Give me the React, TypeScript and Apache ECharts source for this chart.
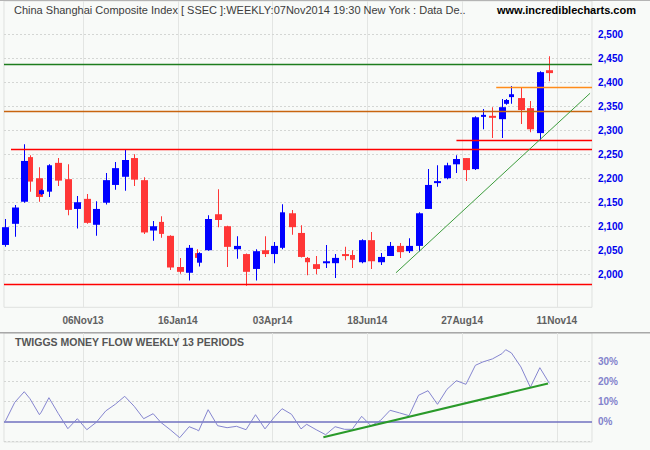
import React, { useEffect, useRef } from "react";
import * as echarts from "echarts";

// Weekly bars (week ending dates) and number of trading days in each week
const weekEnding = [
  "30Aug13", "06Sep13", "13Sep13", "18Sep13", "27Sep13", "30Sep13", "11Oct13", "18Oct13", "25Oct13", "01Nov13",
  "08Nov13", "15Nov13", "22Nov13", "29Nov13", "06Dec13", "13Dec13", "20Dec13", "27Dec13", "03Jan14", "10Jan14",
  "17Jan14", "24Jan14", "30Jan14", "07Feb14", "14Feb14", "21Feb14", "28Feb14", "07Mar14", "14Mar14", "21Mar14",
  "28Mar14", "04Apr14", "11Apr14", "18Apr14", "25Apr14", "30Apr14", "09May14", "16May14", "23May14", "30May14",
  "06Jun14", "13Jun14", "20Jun14", "27Jun14", "04Jul14", "11Jul14", "18Jul14", "25Jul14", "01Aug14", "08Aug14",
  "15Aug14", "22Aug14", "29Aug14", "05Sep14", "12Sep14", "19Sep14", "26Sep14", "30Sep14", "10Oct14", "17Oct14",
  "24Oct14", "31Oct14", "07Nov14",
];
const tradingDays = [
  5, 5, 5, 3, 5, 1, 4, 5, 5, 5,
  5, 5, 5, 5, 5, 5, 5, 5, 4, 5,
  5, 5, 4, 1, 5, 5, 5, 5, 5, 5,
  5, 5, 4, 5, 5, 3, 5, 5, 5, 5,
  4, 5, 5, 5, 5, 5, 5, 5, 5, 5,
  5, 5, 5, 5, 4, 5, 5, 2, 3, 5,
  5, 5, 5,
];
const opens = [
  2062, 2106, 2152, 2245, 2201, 2168, 2173, 2233, 2199, 2137,
  2158, 2104, 2150, 2187, 2204, 2243, 2197, 2092, 2110, 2081,
  2016, 2004, 2045, 2025, 2051, 2126, 2101, 2053, 2043, 2012,
  2051, 2043, 2056, 2128, 2087, 2035, 2022, 2024, 2024, 2043,
  2041, 2026, 2072, 2026, 2039, 2060, 2049, 2060, 2137, 2191,
  2201, 2230, 2243, 2220, 2329, 2331, 2324, 2356, 2370, 2368,
  2347, 2295, 2426,
];
const closes = [
  2099, 2140, 2237, 2194, 2162, 2176, 2228, 2196, 2135, 2151,
  2108, 2137, 2197, 2222, 2239, 2198, 2088, 2101, 2085, 2015,
  2006, 2056, 2035, 2045, 2116, 2114, 2058, 2060, 2006, 2049,
  2043, 2060, 2130, 2099, 2037, 2026, 2012, 2028, 2035, 2042,
  2031, 2072, 2028, 2037, 2060, 2047, 2060, 2128, 2187, 2195,
  2228, 2241, 2218, 2328, 2333, 2328, 2349, 2364, 2376, 2343,
  2303, 2422, 2420,
];
const lows = [
  2058, 2079, 2150, 2173, 2152, 2166, 2162, 2185, 2124, 2096,
  2106, 2081, 2146, 2177, 2175, 2185, 2085, 2071, 2077, 2010,
  2002, 1988, 2033, 2017, 2050, 2099, 2016, 2033, 1977, 1988,
  2037, 2024, 2053, 2083, 2036, 1999, 2001, 2014, 1993, 2030,
  2014, 2024, 2012, 2020, 2039, 2035, 2045, 2049, 2137, 2183,
  2199, 2212, 2195, 2218, 2303, 2285, 2285, 2354, 2356, 2314,
  2297, 2281, 2403,
];
const highs = [
  2116, 2145, 2272, 2249, 2224, 2178, 2230, 2243, 2230, 2164,
  2168, 2153, 2212, 2235, 2262, 2251, 2203, 2112, 2122, 2082,
  2035, 2062, 2053, 2047, 2124, 2178, 2102, 2080, 2044, 2053,
  2080, 2068, 2147, 2135, 2103, 2037, 2039, 2062, 2043, 2058,
  2051, 2074, 2089, 2045, 2068, 2066, 2076, 2130, 2220, 2228,
  2233, 2249, 2243, 2330, 2345, 2349, 2366, 2366, 2393, 2391,
  2362, 2424, 2455,
];
// Twiggs Money Flow (13 week), percent
const moneyFlow = [
  0, 9.5, 14.8, 11.3, 3.3, 4.6, 11.8, 3.8, -3.7, 1.3,
  -4.2, -0.5, 5.2, 8.5, 12.5, 7.5, 1.3, 3.8, -0.5, -4.2,
  -8.2, -2.7, -4.2, -4.8, 5.8, -2.2, -3.2, -2.5, -4.2, 3.3,
  -3.8, 2.2, 6.3, 3.5, -3.8, -1.5, -4.2, -6.7, -2.7, -4,
  -4, 2.5, -2.3, 0.5, 5.5, 4.2, 2.8, 13, 15.3, 8.5,
  16, 20.3, 18.5, 28, 29.7, 31.2, 33.8, 35.8, 34.2, 27.2,
  17, 26.8, 19,
];

// Axis ticks (x positions are trading-day counts from the first bar)
const xTickDays = [41, 91, 141, 191, 241, 291];
const xTickLabels = ["06Nov13", "16Jan14", "03Apr14", "18Jun14", "27Aug14", "11Nov14"];
const priceTicks = [2000, 2050, 2100, 2150, 2200, 2250, 2300, 2350, 2400, 2450, 2500];
const flowTicks = [0, 10, 20, 30];
const flowGrid = [-10, 10, 20, 30];

// Annotation lines drawn on the chart
const levelValues = [2439, 2390, 2340, 2280, 2261, 1980];
const levelStartDay = [null, 259, null, 238, 3, null];
const levelColors = ["#1e7d1e", "#ff8c1a", "#c8640f", "#ff0000", "#ff0000", "#ff0000"];
const priceTrend = [[206.1, 2004], [308.5, 2378]];
const flowTrend = [[167.8, -8], [286.3, 18.9]];

const X_MIN = -0.69;
const X_MAX = 309.52;

const dayIndex: number[] = [];
tradingDays.forEach((d, i) => {
  dayIndex.push(i === 0 ? 0 : dayIndex[i - 1] + d);
});

export default function App() {
  const ref = useRef<HTMLDivElement>(null);
  useEffect(() => {
    if (!ref.current) return;
    const chart = echarts.init(ref.current, undefined, { renderer: "svg" });
    const candleData = weekEnding.map((w, i) => [dayIndex[i], opens[i], closes[i], lows[i], highs[i], tradingDays[i]]);
    const flowData = moneyFlow.map((v, i) => [dayIndex[i], v]);

    const vGrid = xTickDays.map((d) => ({ xAxis: d, lineStyle: { color: "#e3e5e3", type: "solid", width: 1 } }));
    const hGridUpper = priceTicks.map((p) => ({ yAxis: p, lineStyle: { color: "#d4d6d4", type: [2, 2], width: 1 } }));
    const hGridLower = flowGrid.map((p) => ({ yAxis: p, lineStyle: { color: "#d4d6d4", type: [2, 2], width: 1 } }));

    const levelLines = levelValues.map((v, i) => [
      { coord: [levelStartDay[i] == null ? X_MIN : levelStartDay[i], v], lineStyle: { color: levelColors[i], width: 1.3, type: "solid" } },
      { coord: [X_MAX, v] },
    ]);

    const font = "'Liberation Sans', Arial, sans-serif";

    chart.setOption({
      animation: false,
      backgroundColor: "#f8faf8",
      textStyle: { fontFamily: font },
      title: [
        {
          text: "China Shanghai Composite Index [ SSEC ]:WEEKLY:07Nov2014 19:30 New York : Data De..",
          left: 14,
          top: 4,
          padding: 0,
          textStyle: { fontFamily: "'Liberation Sans Narrow', 'Liberation Sans', Arial, sans-serif", fontSize: 11, fontWeight: "normal", color: "#3c3c3c" },
        },
        {
          text: "www.incrediblecharts.com",
          left: 497,
          top: 4,
          padding: 0,
          textStyle: { fontFamily: font, fontSize: 11, fontWeight: "bold", color: "#000000" },
        },
        {
          text: "TWIGGS MONEY FLOW WEEKLY 13 PERIODS",
          left: 15,
          top: 336,
          padding: 0,
          textStyle: { fontFamily: font, fontSize: 10.5, fontWeight: "bold", color: "#555555" },
        },
      ],
      grid: [
        { left: 4, top: 1, width: 588, height: 306.3, show: true, borderColor: "#dfe1df", borderWidth: 1, backgroundColor: "transparent" },
        { left: 4, top: 333, width: 588, height: 109, show: true, borderColor: "#dfe1df", borderWidth: 1, backgroundColor: "transparent" },
      ],
      xAxis: [
        {
          type: "value", gridIndex: 0, min: X_MIN, max: X_MAX,
          axisLine: { show: false }, axisTick: { show: false }, splitLine: { show: false },
          axisLabel: {
            customValues: xTickDays,
            formatter: (v: number) => {
              const i = xTickDays.indexOf(Math.round(v));
              return i >= 0 ? xTickLabels[i] : "";
            },
            color: "#606060", fontWeight: "bold", fontSize: 10, margin: 8, fontFamily: font,
          },
        },
        {
          type: "value", gridIndex: 1, min: X_MIN, max: X_MAX,
          axisLine: { show: false }, axisTick: { show: false }, splitLine: { show: false },
          axisLabel: { show: false },
        },
      ],
      yAxis: [
        {
          type: "value", gridIndex: 0, position: "right", min: 1932.1, max: 2570.2,
          axisLine: { show: false }, axisTick: { show: false }, splitLine: { show: false },
          axisLabel: {
            customValues: priceTicks,
            formatter: (v: number) => v.toLocaleString("en-US"),
            color: "#0000ee", fontWeight: "bold", fontSize: 10, margin: 6, fontFamily: font,
          },
        },
        {
          type: "value", gridIndex: 1, position: "right", min: -10.35, max: 44.15,
          axisLine: { show: false }, axisTick: { show: false }, splitLine: { show: false },
          axisLabel: {
            customValues: flowTicks,
            formatter: (v: number) => `${v}%`,
            color: "#8282cc", fontWeight: "bold", fontSize: 10, margin: 6, fontFamily: font,
          },
        },
      ],
      series: [
        {
          name: "gridUpper", type: "line", xAxisIndex: 0, yAxisIndex: 0, data: [], silent: true,
          markLine: { silent: true, z: 1, symbol: ["none", "none"], label: { show: false }, data: [...vGrid, ...hGridUpper] },
        },
        {
          name: "SSEC", type: "custom", xAxisIndex: 0, yAxisIndex: 0, z: 3, clip: false,
          encode: { x: 0, y: [1, 2, 3, 4] },
          data: candleData,
          renderItem: (params: any, api: any) => {
            const xi = api.value(0);
            const o = api.value(1);
            const c = api.value(2);
            const l = api.value(3);
            const h = api.value(4);
            const d = api.value(5);
            const x = api.coord([xi, o])[0];
            const yo = api.coord([xi, o])[1];
            const yc = api.coord([xi, c])[1];
            const yl = api.coord([xi, l])[1];
            const yh = api.coord([xi, h])[1];
            const color = c >= o ? "#0000ff" : "#ff3636";
            const bw = d >= 5 ? 7 : 5;
            const cx = Math.round(x);
            const top = Math.min(yo, yc);
            const bot = Math.max(yo, yc);
            return {
              type: "group",
              children: [
                { type: "rect", shape: { x: cx, y: yh, width: 1, height: Math.max(1, yl - yh) }, style: { fill: color } },
                { type: "rect", shape: { x: cx - Math.floor(bw / 2), y: top, width: bw, height: Math.max(2, bot - top) }, style: { fill: color } },
              ],
            };
          },
          markLine: {
            silent: true, z: 5, symbol: ["none", "none"], label: { show: false },
            data: [
              ...levelLines,
              [
                { coord: priceTrend[0], lineStyle: { color: "#3c9c3c", width: 1, type: "solid" } },
                { coord: priceTrend[1] },
              ],
            ],
          },
        },
        {
          name: "gridLower", type: "line", xAxisIndex: 1, yAxisIndex: 1, data: [], silent: true,
          markLine: {
            silent: true, z: 1, symbol: ["none", "none"], label: { show: false },
            data: [...vGrid, ...hGridLower, { yAxis: 0, lineStyle: { color: "#7070c0", width: 1.5, type: "solid" } }],
          },
        },
        {
          name: "Twiggs Money Flow", type: "line", xAxisIndex: 1, yAxisIndex: 1, z: 3,
          data: flowData, showSymbol: false, symbol: "none",
          lineStyle: { color: "#8585cf", width: 1 },
          markLine: {
            silent: true, z: 5, symbol: ["none", "none"], label: { show: false },
            data: [
              [
                { coord: flowTrend[0], lineStyle: { color: "#2a9a2a", width: 2, type: "solid" } },
                { coord: flowTrend[1] },
              ],
            ],
          },
        },
      ],
      graphic: [
        { type: "line", shape: { x1: 0, y1: 0.5, x2: 650, y2: 0.5 }, style: { stroke: "#b4b4b4", lineWidth: 1 }, silent: true },
        { type: "line", shape: { x1: 0, y1: 332.7, x2: 650, y2: 332.7 }, style: { stroke: "#a8a8a8", lineWidth: 1.5 }, silent: true },
      ],
    });
    return () => chart.dispose();
  }, []);
  return (
    <div
      ref={ref}
      style={{ position: "absolute", left: 0, top: 0, width: 650, height: 450 }}
    />
  );
}
